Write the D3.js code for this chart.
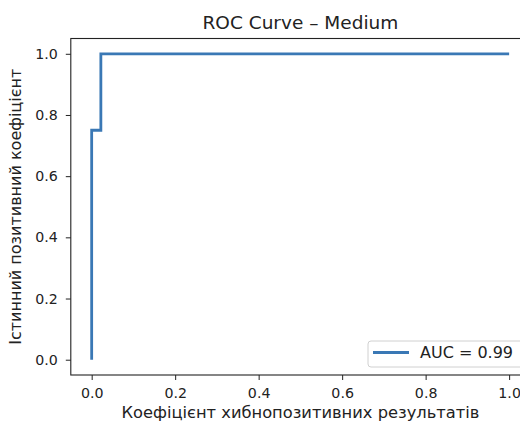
<!DOCTYPE html>
<html>
<head>
<meta charset="utf-8">
<script src="https://cdn.jsdelivr.net/npm/d3@7"></script>
<style>
body { margin: 0; background: #fff; }
svg text { font-family: "DejaVu Sans", sans-serif; fill: #222; }
</style>
</head>
<body>
<div class="d3"></div>
<script>
// ROC points (false positive rate, true positive rate)
fpr = [0, 0, 0.022, 0.022, 1];
tpr = [0, 0.75, 0.75, 1, 1];
xTicks = [0, 0.2, 0.4, 0.6, 0.8, 1.0];
yTicks = [0, 0.2, 0.4, 0.6, 0.8, 1.0];
aucLabel = "AUC = 0.99";

var w = 520, h = 421;
var plotLeft = 70.8, plotRight = 530, plotTop = 38.5, plotBottom = 375;
var lineColor = "#3a78b5";

var svg = d3.select(".d3").append("svg")
	.attr("width", w)
	.attr("height", h);

var xScale = d3.scaleLinear().domain([-0.05, 1.05]).range([plotLeft, plotRight]);
var yScale = d3.scaleLinear().domain([-0.05, 1.05]).range([plotBottom, plotTop]);

// axes
var xAxis = d3.axisBottom(xScale).tickValues(xTicks).tickFormat(d3.format(".1f")).tickSize(5).tickPadding(8);
var yAxis = d3.axisLeft(yScale).tickValues(yTicks).tickFormat(d3.format(".1f")).tickSize(5).tickPadding(8);

var gx = svg.append("g").attr("transform", "translate(0," + plotBottom + ")").call(xAxis);
var gy = svg.append("g").attr("transform", "translate(" + plotLeft + ",0)").call(yAxis);
[gx, gy].forEach(g => {
	g.select(".domain").remove();
	g.selectAll("line").attr("stroke", "#222").attr("stroke-width", 1);
	g.selectAll("text").attr("font-size", "14.2px").attr("fill", "#222").style("font-family", "DejaVu Sans");
});

// frame
svg.append("rect")
	.attr("x", plotLeft).attr("y", plotTop)
	.attr("width", plotRight - plotLeft).attr("height", plotBottom - plotTop)
	.attr("fill", "none").attr("stroke", "#222").attr("stroke-width", 1.1);

// curve
var pts = fpr.map((d, i) => [d, tpr[i]]);
svg.append("path")
	.datum(pts)
	.attr("fill", "none")
	.attr("stroke", lineColor)
	.attr("stroke-width", 2.8)
	.attr("d", d3.line().x(d => xScale(d[0])).y(d => yScale(d[1])));

// title + labels
svg.append("text")
	.text("ROC Curve – Medium")
	.attr("x", (plotLeft + plotRight) / 2).attr("y", 29)
	.attr("text-anchor", "middle")
	.attr("font-size", "18.5px");

svg.append("text")
	.text("Коефіцієнт хибнопозитивних результатів")
	.attr("x", (plotLeft + plotRight) / 2).attr("y", 418)
	.attr("text-anchor", "middle")
	.attr("font-size", "16.3px");

svg.append("text")
	.text("Істинний позитивний коефіцієнт")
	.attr("transform", "translate(21," + (plotTop + plotBottom) / 2 + ") rotate(-90)")
	.attr("text-anchor", "middle")
	.attr("font-size", "16px");

// legend
var lg = svg.append("g").attr("transform", "translate(368,341)");
lg.append("rect")
	.attr("width", 155).attr("height", 26)
	.attr("rx", 3)
	.attr("fill", "#fff").attr("fill-opacity", 0.8)
	.attr("stroke", "#d0d0d0");
lg.append("line")
	.attr("x1", 5).attr("x2", 41).attr("y1", 11.5).attr("y2", 11.5)
	.attr("stroke", lineColor).attr("stroke-width", 2.8);
lg.append("text")
	.text(aucLabel)
	.attr("x", 52).attr("y", 16.5)
	.attr("font-size", "16px");
</script>
</body>
</html>
